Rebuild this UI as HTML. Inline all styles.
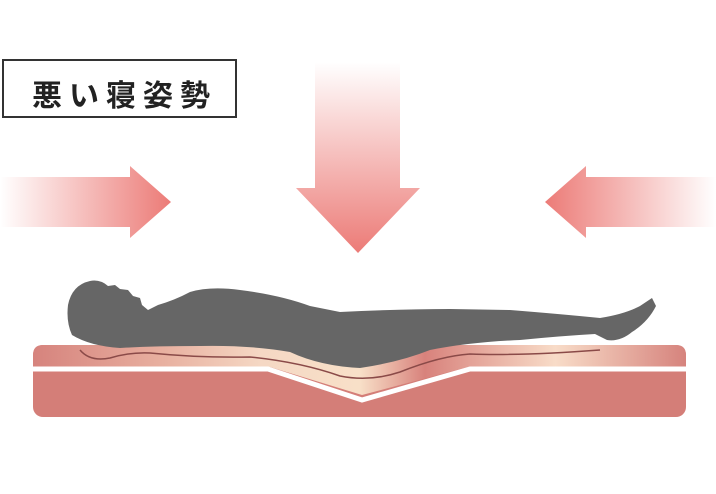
<!DOCTYPE html>
<html><head><meta charset="utf-8"><style>
body{margin:0;width:716px;height:494px;background:#fff;overflow:hidden;position:relative}
.lab{position:absolute;left:2px;top:59px;width:231px;height:55px;border:2px solid #333;box-sizing:content-box}
.lab span{position:absolute;left:28px;top:10px;font:bold 30px "Liberation Sans","Noto Sans CJK JP",sans-serif;letter-spacing:7px;color:#222;white-space:nowrap}
svg{position:absolute;left:0;top:0}
</style></head><body>
<svg width="716" height="494" viewBox="0 0 716 494">
<defs>
<linearGradient id="gl" x1="0" x2="1" y1="0" y2="0"><stop offset="0" stop-color="#ec7b77" stop-opacity="0"/><stop offset="1" stop-color="#ec7b77"/></linearGradient>
<linearGradient id="gr" x1="1" x2="0" y1="0" y2="0"><stop offset="0" stop-color="#ec7b77" stop-opacity="0"/><stop offset="1" stop-color="#ec7b77"/></linearGradient>
<linearGradient id="gd" x1="0" x2="0" y1="0" y2="1"><stop offset="0" stop-color="#ec7b77" stop-opacity="0"/><stop offset="1" stop-color="#ec7b77"/></linearGradient>
<linearGradient id="mt" x1="0" x2="1" y1="0" y2="0">
<stop offset="0" stop-color="#d6837d"/><stop offset="0.2" stop-color="#e8b0a0"/><stop offset="0.35" stop-color="#f5d8c4"/><stop offset="0.5" stop-color="#f8e0c8"/><stop offset="0.6" stop-color="#d8827c"/><stop offset="0.8" stop-color="#f8dcc8"/><stop offset="1" stop-color="#d6837d"/></linearGradient>
</defs>
<path d="M0 177H130V166L171 202L130 238V227H0Z" fill="url(#gl)"/>
<path d="M716 177H586V166L545 202L586 238V227H716Z" fill="url(#gr)"/>
<path d="M315 62H400V188H420L358 253L296 188H315Z" fill="url(#gd)"/>
<rect x="33" y="345" width="653" height="72" rx="10" fill="#d47e78"/>
<path d="M33 355Q33 345 43 345H676Q686 345 686 355V367H468L362 395L270 367H33Z" fill="url(#mt)"/>
<path d="M33 369H268L362 400L470 369H686" stroke="#fff" stroke-width="5" fill="none"/>
<path d="M80 350Q90 362 110 358Q130 352 150 353Q200 358 250 357Q300 362 340 376Q370 382 400 372Q440 356 470 354Q520 356 600 350" stroke="#8a4a48" stroke-width="1.5" fill="none"/>
<path d="M68 305Q72 285 90 281Q100 279 108 286L115 285L120 289L128 290L133 296L140 298L142 305L148 310L158 305Q175 300 190 292Q210 286 240 290Q280 295 310 306L340 312Q400 309 450 309L510 310Q560 314 600 318Q625 314 640 306L652 298L656 306Q648 322 632 332Q620 342 607 340L595 334Q560 336 520 340Q470 342 430 350Q400 362 360 368Q320 366 290 352Q250 345 200 346Q150 346 120 348Q90 346 72 335Q66 322 68 305Z" fill="#666"/>
</svg>
<div class="lab"><span>悪い寝姿勢</span></div>
</body></html>
